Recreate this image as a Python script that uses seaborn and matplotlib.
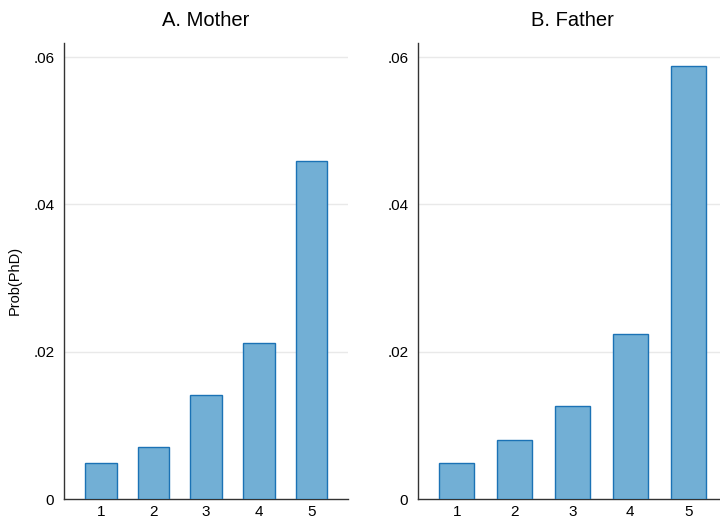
import matplotlib
matplotlib.use("Agg")
import matplotlib.pyplot as plt
import seaborn as sns
import pandas as pd

categories = ["1", "2", "3", "4", "5"]
mother = [0.0049, 0.0071, 0.0141, 0.0212, 0.0459]
father = [0.0049, 0.0081, 0.0126, 0.0224, 0.0588]
titles = ["A. Mother", "B. Father"]
yticks = [0, 0.02, 0.04, 0.06]
ytick_labels = ["0", ".02", ".04", ".06"]

sns.set_theme(style="white")
plt.rcParams["font.family"] = ["Liberation Sans", "DejaVu Sans"]
plt.rcParams["text.color"] = "black"

fig = plt.figure(figsize=(7.2, 5.18), dpi=100)
ax1 = fig.add_axes([64/720, 1-499.3/518, 284.3/720, (499.3-43)/518])
ax2 = fig.add_axes([418/720, 1-499.3/518, 309/720, (499.3-43)/518])

fill = "#72afd5"
edge = "#1b72b5"
for ax, vals, title, xl in [(ax1, mother, titles[0], (-0.7, 4.7)),
                            (ax2, father, titles[1], (-0.67, 4.67))]:
    df = pd.DataFrame({"cat": categories, "val": vals})
    sns.barplot(data=df, x="cat", y="val", ax=ax, color=fill, edgecolor=edge,
                linewidth=1, width=0.6, saturation=1, zorder=3)
    ax.set_xlim(*xl)
    ax.set_ylim(0, 0.0619)
    ax.set_yticks(yticks)
    ax.set_yticklabels(ytick_labels)
    for y in yticks[1:]:
        ax.axhline(y, color="#e9e9e9", lw=1, zorder=1)
    ax.set_title(title, fontsize=14.5, pad=12.5, color="black")
    ax.set_xlabel("")
    ax.set_ylabel("")
    ax.tick_params(axis="both", length=0, labelsize=11, colors="black")
    ax.tick_params(axis="y", pad=7)
    ax.tick_params(axis="x", pad=4)
    for s in ["top", "right"]:
        ax.spines[s].set_visible(False)
    for s in ["left", "bottom"]:
        ax.spines[s].set_color("#333333")
        ax.spines[s].set_linewidth(1)

fig.text(15/720, 1-280/518, "Prob(PhD)", rotation=90, va="center", ha="center",
         fontsize=10.5, color="black")

fig.savefig("out.png", dpi=100)
